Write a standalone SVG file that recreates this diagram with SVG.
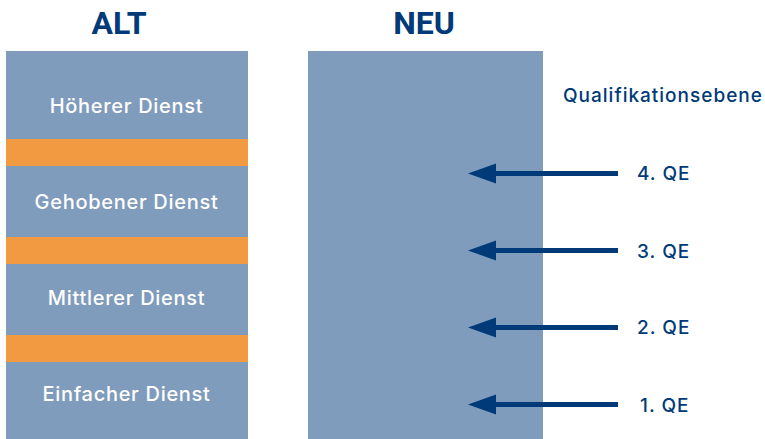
<svg xmlns="http://www.w3.org/2000/svg" width="765" height="439" viewBox="0 0 765 439">
  <defs>
    <style>
      .bar { fill: #7f9cbc; }
      .band { fill: #f29a42; }
      .title { font-family: Roboto, "Liberation Sans", sans-serif; font-weight: 700; font-size: 32px; fill: #003a78; text-anchor: middle; }
      .lvl { font-family: Inter, Roboto, "Liberation Sans", sans-serif; font-weight: 500; font-size: 20px; letter-spacing: 0.7px; fill: #ffffff; text-anchor: middle; }
      .qe { font-family: Inter, Roboto, "Liberation Sans", sans-serif; font-weight: 500; font-size: 19px; letter-spacing: 1px; fill: #003a78; }
      .arrow { stroke: #003a78; stroke-width: 5; fill: none; }
      .head { fill: #003a78; }
    </style>
  </defs>

  <rect width="765" height="439" fill="#ffffff"/>

  <!-- headings -->
  <text class="title" x="119" y="34">ALT</text>
  <text class="title" x="424" y="34">NEU</text>

  <!-- old career tracks -->
  <g id="alt">
    <g id="hoeherer">
      <rect class="bar" x="6" y="51" width="242" height="88"/>
      <text class="lvl" x="126.5" y="113">Höherer Dienst</text>
    </g>
    <rect class="band" x="6" y="139" width="242" height="27"/>
    <g id="gehobener">
      <rect class="bar" x="6" y="166" width="242" height="71"/>
      <text class="lvl" x="126.5" y="209">Gehobener Dienst</text>
    </g>
    <rect class="band" x="6" y="237" width="242" height="27"/>
    <g id="mittlerer">
      <rect class="bar" x="6" y="264" width="242" height="71"/>
      <text class="lvl" x="126.5" y="305">Mittlerer Dienst</text>
    </g>
    <rect class="band" x="6" y="335" width="242" height="27"/>
    <g id="einfacher">
      <rect class="bar" x="6" y="362" width="242" height="77"/>
      <text class="lvl" x="126.5" y="401">Einfacher Dienst</text>
    </g>
  </g>

  <!-- new single track -->
  <g id="neu">
    <rect class="bar" x="308" y="51" width="235" height="388"/>
  </g>

  <g id="legend">
    <text class="qe" x="563" y="102">Qualifikationsebene</text>
    <text class="qe" x="637" y="180">4. QE</text>
    <text class="qe" x="637" y="258">3. QE</text>
    <text class="qe" x="637" y="334">2. QE</text>
    <text class="qe" x="640" y="412">1. QE</text>
  </g>

  <!-- connectors -->
  <g id="connectors">
    <path class="arrow" d="M618,173.5 H495"/>
    <path class="arrow" d="M618,250.5 H495"/>
    <path class="arrow" d="M618,327.5 H495"/>
    <path class="arrow" d="M618,404.5 H495"/>
    <path class="head" d="M468,173.5 L496,163.5 L496,183.5 Z"/>
    <path class="head" d="M468,250.5 L496,240.5 L496,260.5 Z"/>
    <path class="head" d="M468,327.5 L496,317.5 L496,337.5 Z"/>
    <path class="head" d="M468,404.5 L496,394.5 L496,414.5 Z"/>
  </g>
</svg>
